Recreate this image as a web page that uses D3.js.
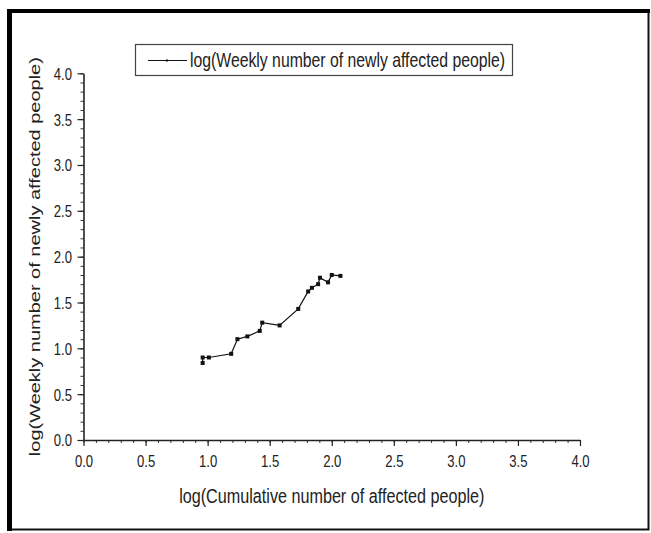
<!DOCTYPE html>
<html>
<head>
<meta charset="utf-8">
<script src="https://cdn.jsdelivr.net/npm/d3@7"></script>
<style>
  body { margin: 0; background: #fff; }
  text { font-family: "Liberation Sans", Arial, sans-serif; fill: #222; }
</style>
</head>
<body>
<svg width="651" height="533"></svg>
<script>
// Data
const xValues = [0.96, 0.96, 1.01, 1.19, 1.24, 1.32, 1.42, 1.44, 1.58, 1.73, 1.81, 1.84, 1.89, 1.905, 1.97, 2.00, 2.07];
const yValues = [0.84, 0.90, 0.90, 0.94, 1.10, 1.13, 1.19, 1.28, 1.25, 1.43, 1.62, 1.66, 1.70, 1.77, 1.72, 1.80, 1.79];
const majorTicks = [0, 0.5, 1.0, 1.5, 2.0, 2.5, 3.0, 3.5, 4.0];
const minorTicks = d3.range(0, 41).map(i => i / 10);
const seriesName = "log(Weekly number of newly affected people)";
const xTitle = "log(Cumulative number of affected people)";
const yTitle = "log(Weekly number of newly affected people)";

const data = xValues.map((x, i) => ({ x: x, y: yValues[i] }));

// squeeze factor of the text in the picture
const squeeze = 0.77;

const svg = d3.select("svg");

// Outer frame
svg.append("rect").attr("x", 9.5).attr("y", 11).attr("width", 639).attr("height", 518.5)
    .attr("fill", "none").attr("stroke", "#111").attr("stroke-width", 2);
svg.append("rect").attr("x", 7).attr("y", 9).attr("width", 5).attr("height", 522).attr("fill", "#000");
svg.append("rect").attr("x", 7).attr("y", 9).attr("width", 643).attr("height", 4).attr("fill", "#000");

// Scales
const xScale = d3.scaleLinear().domain([0, 4]).range([83.5, 580]);
const yScale = d3.scaleLinear().domain([0, 4]).range([440, 73.3]);

// Minor ticks
svg.append("g")
    .attr("transform", "translate(0,440)")
    .call(d3.axisBottom(xScale).tickValues(minorTicks).tickSize(3).tickFormat(""))
    .call(g => g.select(".domain").remove())
    .call(g => g.selectAll("line").attr("stroke", "#333"));
svg.append("g")
    .attr("transform", "translate(83.5,0)")
    .call(d3.axisLeft(yScale).tickValues(minorTicks).tickSize(3).tickFormat(""))
    .call(g => g.select(".domain").remove())
    .call(g => g.selectAll("line").attr("stroke", "#333"));

// Major x axis
const xAxis = svg.append("g")
    .attr("transform", "translate(0,440)")
    .call(d3.axisBottom(xScale).tickValues(majorTicks).tickSize(6).tickSizeOuter(0).tickFormat(d3.format(".1f")));
xAxis.select(".domain").attr("stroke", "#222").attr("stroke-width", 1.6);
xAxis.selectAll("line").attr("stroke", "#222").attr("stroke-width", 1.2);
xAxis.selectAll("text")
    .attr("y", 27).attr("dy", null)
    .attr("transform", `scale(${squeeze},1)`)
    .style("font-size", "17px").attr("fill", "#222");

// Major y axis
const yAxis = svg.append("g")
    .attr("transform", "translate(83.5,0)")
    .call(d3.axisLeft(yScale).tickValues(majorTicks).tickSize(6).tickSizeOuter(0).tickFormat(d3.format(".1f")));
yAxis.select(".domain").attr("stroke", "#222").attr("stroke-width", 1.6);
yAxis.selectAll("line").attr("stroke", "#222").attr("stroke-width", 1.2);
yAxis.selectAll("text")
    .attr("x", -11.5 / squeeze).attr("dy", "0.35em")
    .attr("transform", `scale(${squeeze},1)`)
    .style("font-size", "17px").attr("fill", "#222");

// Series line and markers
const line = d3.line().x(d => xScale(d.x)).y(d => yScale(d.y));
svg.append("path")
    .datum(data)
    .attr("fill", "none")
    .attr("stroke", "#111")
    .attr("stroke-width", 1.2)
    .attr("d", line);

svg.selectAll(".pt")
    .data(data)
    .enter()
    .append("rect")
    .attr("class", "pt")
    .attr("x", d => xScale(d.x) - 2)
    .attr("y", d => yScale(d.y) - 2)
    .attr("width", 4)
    .attr("height", 4)
    .attr("fill", "#111");

// Legend
svg.append("rect").attr("x", 135.5).attr("y", 44.5).attr("width", 377).attr("height", 31)
    .attr("fill", "#fff").attr("stroke", "#444").attr("stroke-width", 1.2);
svg.append("line").attr("x1", 148).attr("x2", 187).attr("y1", 60.5).attr("y2", 60.5)
    .attr("stroke", "#111").attr("stroke-width", 1.2);
svg.append("rect").attr("x", 166).attr("y", 59.5).attr("width", 2).attr("height", 2).attr("fill", "#111");
svg.append("text")
    .attr("transform", `translate(190,67) scale(${squeeze},1)`)
    .style("font-size", "20.5px")
    .text(seriesName);

// X axis title
svg.append("text")
    .attr("transform", `translate(${(83.5 + 580) / 2},503) scale(${squeeze},1)`)
    .attr("text-anchor", "middle")
    .style("font-size", "21px")
    .text(xTitle);

// Y axis title
svg.append("text")
    .attr("transform", `translate(40,${(440 + 73.3) / 2}) rotate(-90) scale(1,${squeeze})`)
    .attr("text-anchor", "middle")
    .style("font-size", "20px")
    .text(yTitle);
</script>
</body>
</html>
